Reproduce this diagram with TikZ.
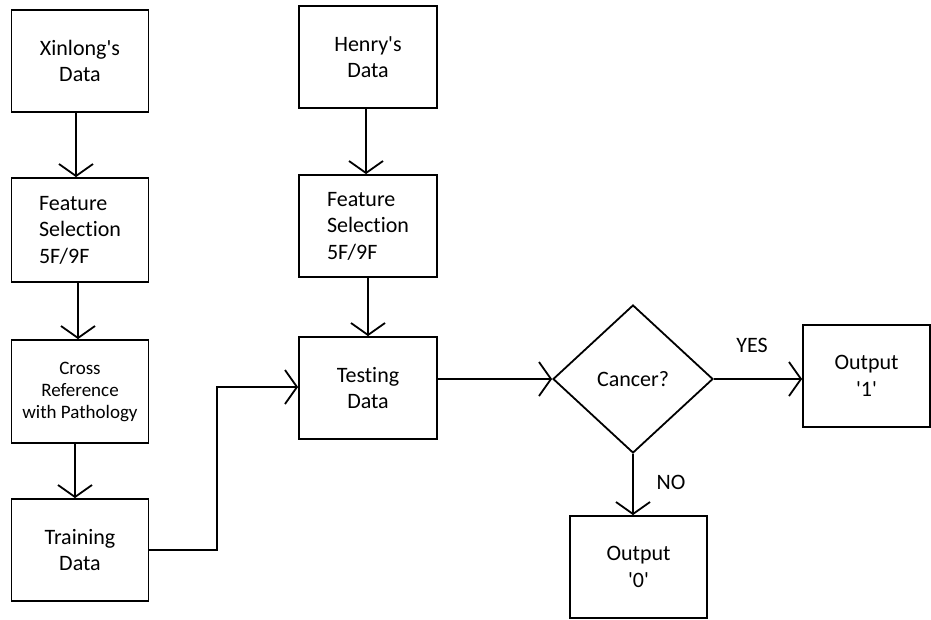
\documentclass[tikz,border=0pt]{standalone}
\usepackage{fontspec}
\setmainfont{Carlito}[Ligatures={NoCommon}]
\usetikzlibrary{arrows.meta,shapes.geometric}
\newcommand{\sq}{\textquotesingle}
\tikzset{
  box/.style={draw, line width=1.8pt, inner sep=0pt, minimum width=137pt, minimum height=102pt, align=center, font=\fontsize{22}{26.5}\selectfont},
  lbox/.style={box, align=left},
  arr/.style={line width=1.8pt, -{Straight Barb[length=12pt,width=34pt,line width=1.8pt]}},
  lab/.style={font=\fontsize{22}{24}\selectfont, inner sep=0pt}
}
\begin{document}
\begin{tikzpicture}[x=1pt,y=-1pt]
\useasboundingbox (0,0) rectangle (931,619);
\node[box] (X) at (80,61) {Xinlong\sq s\\Data};
\node[lbox, minimum height=104pt] (FS1) at (80,230) {Feature\\Selection\\5F/9F};
\node[box, minimum height=103pt, font=\fontsize{19}{22}\selectfont] (CR) at (80,391.5) {Cross\\Reference\\with Pathology};
\node[box] (TR) at (80,550) {Training\\Data};
\node[box, minimum width=138pt] (H) at (368,57) {Henry\sq s\\Data};
\node[lbox, minimum width=138pt] (FS2) at (368,226) {Feature\\Selection\\5F/9F};
\node[box, minimum width=138pt] (TE) at (368,388) {Testing\\Data};
\node[draw, line width=1.8pt, shape=diamond, inner sep=0pt, minimum width=160pt, minimum height=148pt, font=\fontsize{22}{24}\selectfont] (D) at (633,379) {Cancer?};
\node[box, minimum width=127pt] (O1) at (866.5,376) {Output\\\sq 1\sq};
\node[box] (O0) at (638.5,567) {Output\\\sq 0\sq};
\coordinate (bend) at (217,387);
\draw[arr] ([xshift=-4pt]X.south) -- ([xshift=-4pt]FS1.north);
\draw[arr] ([xshift=-2pt]FS1.south) -- ([xshift=-2pt]CR.north);
\draw[arr] ([xshift=-5pt]CR.south) -- ([xshift=-5pt]TR.north);
\draw[arr] ([xshift=-2pt]H.south) -- ([xshift=-2pt]FS2.north);
\draw[arr] (FS2.south) -- (TE.north);
\draw[arr] (TR.east) -| (bend) -- (TE.west |- bend);
\draw[arr] (D.west -| TE.east) -- (D.west);
\draw[arr] (D.east) -- (D.east -| O1.west);
\draw[arr] (D.south) -- (D.south |- O0.north);
\node[lab] (yes) at (752,345) {YES};
\node[lab] (no) at (671,482) {NO};
\end{tikzpicture}
\end{document}
